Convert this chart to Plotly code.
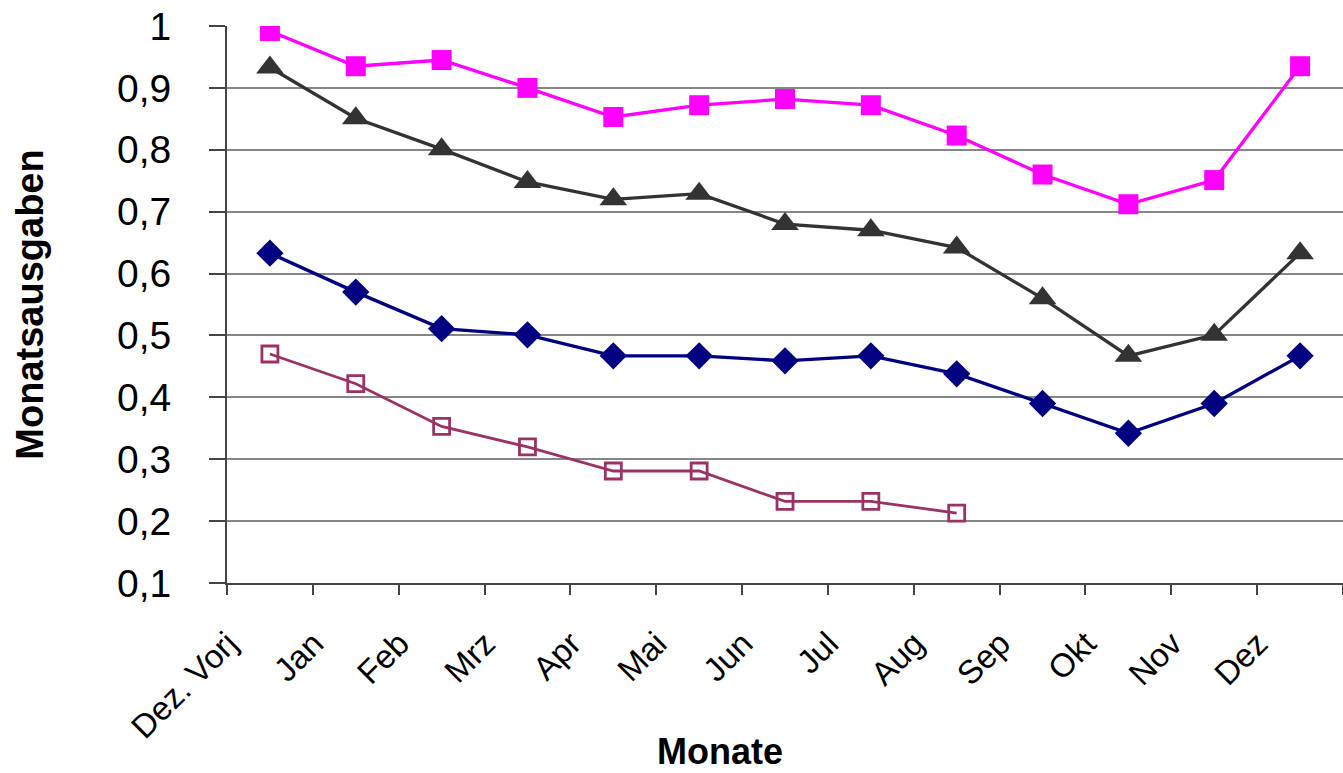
import plotly.graph_objects as go

months = ["Dez. Vorj", "Jan", "Feb", "Mrz", "Apr", "Mai", "Jun", "Jul", "Aug",
          "Sep", "Okt", "Nov", "Dez"]

serie_magenta = [0.992, 0.935, 0.945, 0.900, 0.853, 0.872, 0.882, 0.872, 0.823,
                 0.760, 0.712, 0.751, 0.935]
serie_grau = [0.933, 0.851, 0.801, 0.748, 0.720, 0.729, 0.680, 0.670, 0.642,
              0.560, 0.467, 0.501, 0.633]
serie_blau = [0.633, 0.570, 0.511, 0.501, 0.467, 0.467, 0.459, 0.467, 0.438,
              0.390, 0.342, 0.390, 0.467]
serie_bordeaux = [0.470, 0.422, 0.353, 0.320, 0.281, 0.281, 0.232, 0.232, 0.213]

y_ticks = [0.1, 0.2, 0.3, 0.4, 0.5, 0.6, 0.7, 0.8, 0.9, 1.0]

FONT = "Liberation Sans, Arial, sans-serif"
AXIS = "#454545"

fig = go.Figure()

fig.add_trace(go.Scatter(
    x=months, y=serie_magenta, mode="lines+markers",
    line=dict(color="#FF00FF", width=3.3),
    marker=dict(symbol="square", size=20, color="#FF00FF"),
    showlegend=False))

fig.add_trace(go.Scatter(
    x=months, y=serie_grau, mode="lines+markers",
    line=dict(color="#333333", width=3.3),
    marker=dict(symbol="triangle-up", size=24, color="#333333"),
    showlegend=False))

fig.add_trace(go.Scatter(
    x=months, y=serie_blau, mode="lines+markers",
    line=dict(color="#000080", width=3.3),
    marker=dict(symbol="diamond", size=21, color="#000080"),
    showlegend=False))

fig.add_trace(go.Scatter(
    x=months[:len(serie_bordeaux)], y=serie_bordeaux, mode="lines+markers",
    line=dict(color="#993366", width=2.8),
    marker=dict(symbol="square-open", size=16, color="#993366",
                line=dict(color="#993366", width=2.8)),
    showlegend=False))

fig.update_layout(
    width=1343, height=773,
    margin=dict(l=227, r=0, t=26, b=190, autoexpand=False),
    paper_bgcolor="white", plot_bgcolor="white",
    separators=",.",
    font=dict(family=FONT, color="black"),
    xaxis=dict(
        type="category", categoryorder="array", categoryarray=months,
        range=[-0.5, len(months) - 0.5],
        tickson="boundaries", ticks="outside", ticklen=10, tickwidth=2,
        tickcolor=AXIS,
        showline=True, linecolor=AXIS, linewidth=2,
        showgrid=False, zeroline=False,
        tickangle=-45, ticklabelshift=-42, ticklabelstandoff=26,
        tickfont=dict(family=FONT, size=33, color="black"),
        fixedrange=True,
    ),
    yaxis=dict(
        range=[0.1, 1.0], tickvals=y_ticks,
        ticks="outside", ticklen=16, tickwidth=2, tickcolor=AXIS,
        showline=True, linecolor=AXIS, linewidth=2,
        showgrid=True, gridcolor="#868686", gridwidth=2,
        zeroline=False, ticklabelstandoff=30,
        tickfont=dict(family=FONT, size=39, color="black"),
        title=dict(text="<b>Monatsausgaben</b>", standoff=62,
                   font=dict(family=FONT, size=38, color="black")),
        fixedrange=True,
    ),
    annotations=[dict(
        text="<b>Monate</b>", xref="paper", yref="paper",
        x=0.4418, y=-0.3025, xanchor="center", yanchor="middle",
        showarrow=False, font=dict(family=FONT, size=36, color="black"))],
)

fig.write_html("out.html",
               config={"displayModeBar": False},
               post_script="document.body.style.margin='0';"
                           "document.body.style.overflow='hidden';")
